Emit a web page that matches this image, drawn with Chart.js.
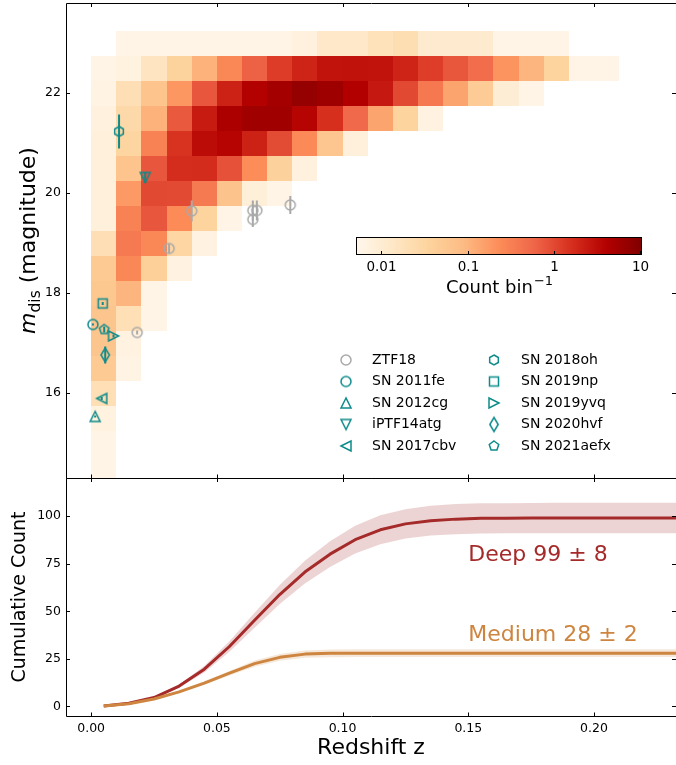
<!DOCTYPE html>
<html>
<head>
<meta charset="utf-8">
<script src="https://cdn.jsdelivr.net/npm/chart.js@4.4.1/dist/chart.umd.min.js"></script>
<style>
  body { margin: 0; background: #fff; }
  #wrap { position: relative; width: 676px; height: 765px; overflow: hidden; }
  canvas { position: absolute; left: 0; }
  #top { top: 0; }
  #bottom { top: 470px; }
</style>
</head>
<body>
<div id="wrap">
  <canvas id="top" width="676" height="480"></canvas>
  <canvas id="bottom" width="676" height="295"></canvas>
</div>
<script>
/* 2D histogram: rows of magnitude, columns of redshift (bin i covers 0.01*i .. 0.01*(i+1)) */
var binWidth = 0.01;
var magStep = 0.5;
var magRows = [23.0, 22.5, 22.0, 21.5, 21.0, 20.5, 20.0, 19.5, 19.0, 18.5, 18.0, 17.5, 17.0, 16.5, 16.0, 15.5, 15.0, 14.5];
var counts = [
  [null, 0.006, 0.006, 0.006, 0.006, 0.006, 0.006, 0.006, 0.0075, 0.013, 0.013, 0.018, 0.022, 0.011, 0.011, 0.011, 0.006, 0.006, 0.006],
  [0.006, 0.0072, 0.016, 0.036, 0.11, 0.26, 0.65, 1.25, 2.0, 2.8, 2.9, 2.8, 2.0, 1.24, 0.79, 0.5, 0.2, 0.1, 0.034, 0.006, 0.006],
  [0.0065, 0.021, 0.063, 0.19, 0.78, 2.1, 4.0, 5.3, 7.0, 6.0, 4.1, 2.5, 1.0, 0.38, 0.145, 0.046, 0.0095, 0.006],
  [0.0075, 0.027, 0.11, 0.75, 2.4, 4.6, 5.6, 5.6, 3.7, 1.6, 0.54, 0.145, 0.034, 0.007],
  [0.0078, 0.033, 0.3, 1.5, 3.2, 3.7, 2.1, 0.95, 0.25, 0.06, 0.008],
  [0.008, 0.063, 0.78, 1.65, 1.7, 0.85, 0.23, 0.038, 0.0075],
  [0.008, 0.18, 1.0, 0.98, 0.36, 0.065, 0.0085, 0.006],
  [0.008, 0.3, 0.78, 0.24, 0.035, 0.006],
  [0.021, 0.36, 0.26, 0.031, 0.007],
  [0.05, 0.27, 0.042, 0.007],
  [0.057, 0.1, 0.006],
  [0.062, 0.02, 0.006],
  [0.062, 0.0068],
  [0.05, 0.0065],
  [0.02],
  [0.0072],
  [0.006],
  [0.006]
];
var countMin = 0.0051, countMax = 10.5;
var countTicks = [0.01, 0.1, 1, 10];
var countTickLabels = ['0.01', '0.1', '1', '10'];

/* ZTF18 sample */
var ztfZ = [0.0183, 0.0310, 0.0400, 0.0643, 0.0659, 0.0643, 0.0792];
var ztfMag = [17.21, 18.89, 19.64, 19.65, 19.65, 19.47, 19.76];
var ztfErr = [0.04, 0.09, 0.21, 0.2, 0.2, 0.15, 0.18];

/* individual supernovae */
var snNames = ['SN 2011fe', 'SN 2012cg', 'iPTF14atg', 'SN 2017cbv', 'SN 2018oh', 'SN 2019np', 'SN 2019yvq', 'SN 2020hvf', 'SN 2021aefx'];
var snZ = [0.0007, 0.0016, 0.0215, 0.0042, 0.0111, 0.0046, 0.0089, 0.0056, 0.0052];
var snMag = [17.37, 15.53, 20.31, 15.89, 21.23, 17.79, 17.14, 16.76, 17.27];
var snErr = [0.02, 0.02, 0.11, 0.03, 0.34, 0.03, 0.03, 0.17, 0.06];

/* cumulative counts */
var zGrid = [0.005, 0.015, 0.025, 0.035, 0.045, 0.055, 0.065, 0.075, 0.085, 0.095, 0.105, 0.115, 0.125, 0.135, 0.145, 0.155, 0.165, 0.175, 0.185, 0.195, 0.205, 0.215, 0.225, 0.235];
var deepCount = [0.3, 1.7, 4.7, 10.7, 19.6, 31.5, 45.3, 58.8, 70.6, 80.0, 87.6, 92.8, 95.9, 97.6, 98.4, 98.8, 98.9, 99.0, 99.0, 99.0, 99.0, 99.0, 99.0, 99.0];
var deepHigh = [0.3, 1.8, 5.1, 11.6, 21.3, 34.2, 49.2, 63.8, 76.6, 86.8, 94.9, 100.4, 103.6, 105.4, 106.3, 106.7, 106.8, 106.9, 107.0, 107.0, 107.0, 107.0, 107.0, 107.0];
var deepLow = [0.3, 1.6, 4.3, 9.8, 17.9, 28.8, 41.4, 53.8, 64.6, 73.2, 80.3, 85.2, 88.2, 89.8, 90.5, 90.9, 91.0, 91.0, 91.0, 91.0, 91.0, 91.0, 91.0, 91.0];
var mediumCount = [0.3, 1.4, 3.9, 7.7, 12.3, 17.5, 22.5, 25.8, 27.5, 27.9, 28.0, 28.0, 28.0, 28.0, 28.0, 28.0, 28.0, 28.0, 28.0, 28.0, 28.0, 28.0, 28.0, 28.0];
var mediumHigh = [0.3, 1.5, 4.2, 8.2, 13.2, 18.7, 24.1, 27.6, 29.4, 29.9, 30.0, 30.0, 30.0, 30.0, 30.0, 30.0, 30.0, 30.0, 30.0, 30.0, 30.0, 30.0, 30.0, 30.0];
var mediumLow = [0.3, 1.3, 3.6, 7.2, 11.4, 16.3, 20.9, 24.0, 25.6, 25.9, 26.0, 26.0, 26.0, 26.0, 26.0, 26.0, 26.0, 26.0, 26.0, 26.0, 26.0, 26.0, 26.0, 26.0];

var zTicks = [0, 0.05, 0.10, 0.15, 0.20];
var magTicks = [16, 18, 20, 22];
var countAxisTicks = [0, 25, 50, 75, 100];

var grey = '#a9a9a9', teal = '#0e8b8b';
var deepColor = '#a52a2a', mediumColor = '#cd853f';

Chart.defaults.font.family = '"DejaVu Sans", sans-serif';
Chart.defaults.color = '#000';
Chart.defaults.animation = false;

// OrRd colour map
var orrd = [[255,247,236],[254,232,200],[253,212,158],[253,187,132],[252,141,89],[239,101,72],[215,48,31],[179,0,0],[127,0,0]];
function cmap(t) {
  t = Math.max(0, Math.min(1, t));
  var s = t * 8, i = Math.min(7, Math.floor(s)), f = s - i;
  var a = orrd[i], b = orrd[i + 1];
  return 'rgb(' + Math.round(a[0] + (b[0] - a[0]) * f) + ',' + Math.round(a[1] + (b[1] - a[1]) * f) + ',' + Math.round(a[2] + (b[2] - a[2]) * f) + ')';
}
function logFrac(v) {
  return (Math.log10(v) - Math.log10(countMin)) / (Math.log10(countMax) - Math.log10(countMin));
}

function polygon(n, r) {
  var out = [];
  for (var k = 0; k < n; k++) {
    var a = -Math.PI / 2 + 2 * Math.PI * k / n;
    out.push([r * Math.cos(a), r * Math.sin(a)]);
  }
  return out;
}
// hollow markers, drawn once and reused as point styles
function marker(shape, color) {
  var c = document.createElement('canvas');
  c.width = 20; c.height = 20;
  var g = c.getContext('2d');
  var h = 5;
  g.translate(10, 10);
  g.strokeStyle = color;
  g.lineWidth = 1.5;
  g.beginPath();
  if (shape === 'circle') {
    g.arc(0, 0, h, 0, 2 * Math.PI);
  } else {
    var pts;
    switch (shape) {
      case 'triUp': pts = [[0, -h], [-h, h], [h, h]]; break;
      case 'triDown': pts = [[0, h], [-h, -h], [h, -h]]; break;
      case 'triLeft': pts = [[-h, 0], [h, -h], [h, h]]; break;
      case 'triRight': pts = [[h, 0], [-h, -h], [-h, h]]; break;
      case 'square': pts = [[-4.5, -4.5], [4.5, -4.5], [4.5, 4.5], [-4.5, 4.5]]; break;
      case 'thinDiamond': pts = [[0, -7], [4.2, 0], [0, 7], [-4.2, 0]]; break;
      case 'hexagon': pts = polygon(6, h); break;
      case 'pentagon': pts = polygon(5, h); break;
    }
    pts.forEach(function(p, i) { if (i) g.lineTo(p[0], p[1]); else g.moveTo(p[0], p[1]); });
    g.closePath();
  }
  g.stroke();
  return c;
}
var snShape = {
  'SN 2011fe': 'circle', 'SN 2012cg': 'triUp', 'iPTF14atg': 'triDown', 'SN 2017cbv': 'triLeft',
  'SN 2018oh': 'hexagon', 'SN 2019np': 'square', 'SN 2019yvq': 'triRight', 'SN 2020hvf': 'thinDiamond',
  'SN 2021aefx': 'pentagon'
};

function setTicks(values) {
  return function(scale) { scale.ticks = values.map(function(v) { return { value: v }; }); };
}
// fixed axis box, no extra room for overhanging labels
function fixSize(w, h) {
  return function(s) {
    if (w !== null) s.width = w;
    if (h !== null) s.height = h;
    s.paddingTop = s.paddingBottom = s.paddingLeft = s.paddingRight = 0;
  };
}

// axes frame with inward ticks on all four sides
var frame = {
  id: 'frame',
  afterDatasetsDraw: function(chart) {
    var a = chart.chartArea, ctx = chart.ctx, len = 4;
    var xs = chart.scales.x, ys = chart.scales.y;
    ctx.save();
    ctx.strokeStyle = '#000';
    ctx.lineWidth = 1;
    ctx.beginPath();
    ctx.rect(a.left + 0.5, a.top + 0.5, a.right - a.left, a.bottom - a.top);
    xs.ticks.forEach(function(t) {
      var px = Math.round(xs.getPixelForValue(t.value)) + 0.5;
      ctx.moveTo(px, a.top); ctx.lineTo(px, a.top + len);
      ctx.moveTo(px, a.bottom + 0.5); ctx.lineTo(px, a.bottom + 0.5 - len);
    });
    ys.ticks.forEach(function(t) {
      var py = Math.round(ys.getPixelForValue(t.value)) + 0.5;
      ctx.moveTo(a.left, py); ctx.lineTo(a.left + len, py);
      ctx.moveTo(a.right, py); ctx.lineTo(a.right - len, py);
    });
    ctx.stroke();
    ctx.restore();
  }
};

var heatmap = {
  id: 'heatmap',
  beforeDatasetsDraw: function(chart) {
    var xs = chart.scales.x, ys = chart.scales.y, ctx = chart.ctx, a = chart.chartArea;
    ctx.save();
    ctx.beginPath();
    ctx.rect(a.left, a.top, a.right - a.left, a.bottom - a.top);
    ctx.clip();
    magRows.forEach(function(m, r) {
      counts[r].forEach(function(v, i) {
        if (v === null) return;
        var x0 = Math.round(xs.getPixelForValue(i * binWidth));
        var x1 = Math.round(xs.getPixelForValue((i + 1) * binWidth));
        var y0 = Math.round(ys.getPixelForValue(m + magStep / 2));
        var y1 = Math.round(ys.getPixelForValue(m - magStep / 2));
        ctx.fillStyle = cmap(logFrac(v));
        ctx.fillRect(x0, y0, x1 - x0, y1 - y0);
      });
    });
    ctx.restore();
  }
};

var errorBars = {
  id: 'errorBars',
  beforeDatasetsDraw: function(chart) {
    var ys = chart.scales.y, ctx = chart.ctx;
    chart.data.datasets.forEach(function(ds, i) {
      var meta = chart.getDatasetMeta(i);
      ctx.save();
      ctx.strokeStyle = ds.borderColor;
      ctx.lineWidth = 2;
      ds.data.forEach(function(p, j) {
        var px = meta.data[j].x;
        ctx.beginPath();
        ctx.moveTo(px, ys.getPixelForValue(p.y - p.err));
        ctx.lineTo(px, ys.getPixelForValue(p.y + p.err));
        ctx.stroke();
      });
      ctx.restore();
    });
  }
};

// colour bar, legend and the m_dis axis label
var topDecor = {
  id: 'topDecor',
  afterDraw: function(chart) {
    var ctx = chart.ctx, a = chart.chartArea;
    var cb = { left: 356, right: 642, top: 237, bottom: 255 };
    ctx.save();
    for (var px = cb.left; px < cb.right; px++) {
      ctx.fillStyle = cmap((px + 0.5 - cb.left) / (cb.right - cb.left));
      ctx.fillRect(px, cb.top, 1, cb.bottom - cb.top);
    }
    ctx.strokeStyle = '#000';
    ctx.lineWidth = 1;
    ctx.strokeRect(cb.left + 0.5, cb.top + 0.5, cb.right - cb.left - 1, cb.bottom - cb.top - 1);
    ctx.font = '13.5px "DejaVu Sans"';
    ctx.fillStyle = '#000';
    ctx.textAlign = 'center';
    ctx.textBaseline = 'middle';
    countTicks.forEach(function(v, k) {
      var tx = Math.round(cb.left + logFrac(v) * (cb.right - cb.left)) + 0.5;
      ctx.beginPath();
      ctx.moveTo(tx, cb.bottom); ctx.lineTo(tx, cb.bottom - 4);
      ctx.stroke();
      ctx.fillText(countTickLabels[k], tx, 267);
    });
    // "Count bin^-1"
    ctx.textBaseline = 'alphabetic';
    ctx.textAlign = 'left';
    ctx.font = '18px "DejaVu Sans"';
    var main = 'Count bin', w1 = ctx.measureText(main).width;
    ctx.font = '13px "DejaVu Sans"';
    var sup = '\u22121', w2 = ctx.measureText(sup).width;
    var sx = (cb.left + cb.right) / 2 - (w1 + w2) / 2;
    ctx.font = '18px "DejaVu Sans"';
    ctx.fillText(main, sx, 293);
    ctx.font = '13px "DejaVu Sans"';
    ctx.fillText(sup, sx + w1 + 1, 285);

    // legend in two columns
    ctx.font = '14px "DejaVu Sans"';
    ctx.textBaseline = 'middle';
    chart.data.datasets.forEach(function(ds, i) {
      var col = i < 5 ? 0 : 1, row = i % 5;
      var mx = col ? 494 : 346, tx = col ? 521 : 372, my = 360 + row * 21.5;
      ctx.drawImage(ds.pointStyle, mx - 10, my - 10);
      ctx.fillText(ds.label, tx, my);
    });

    // y label: m_dis (magnitude)
    ctx.translate(35, (a.top + a.bottom) / 2);
    ctx.rotate(-Math.PI / 2);
    ctx.textBaseline = 'alphabetic';
    var fm = 'italic 22px "DejaVu Sans"', fs = '15.5px "DejaVu Sans"', fr = '22px "DejaVu Sans"';
    ctx.font = fm; var wm = ctx.measureText('m').width;
    ctx.font = fs; var ws = ctx.measureText('dis').width;
    ctx.font = fr; var wr = ctx.measureText(' (magnitude)').width;
    var x0 = -(wm + ws + wr) / 2;
    ctx.font = fm; ctx.fillText('m', x0, 0);
    ctx.font = fs; ctx.fillText('dis', x0 + wm, 4.5);
    ctx.font = fr; ctx.fillText(' (magnitude)', x0 + wm + ws, 0);
    ctx.restore();
  }
};

var topSets = [{
  label: 'ZTF18',
  data: ztfZ.map(function(z, i) { return { x: z, y: ztfMag[i], err: ztfErr[i] }; }),
  pointStyle: marker('circle', grey),
  borderColor: grey,
  pointRadius: 5
}];
snNames.forEach(function(name, i) {
  topSets.push({
    label: name,
    data: [{ x: snZ[i], y: snMag[i], err: snErr[i] }],
    pointStyle: marker(snShape[name], teal),
    borderColor: teal,
    pointRadius: 5
  });
});

new Chart(document.getElementById('top'), {
  type: 'scatter',
  data: { datasets: topSets },
  options: {
    responsive: false,
    events: [],
    layout: { autoPadding: false, padding: { top: 3, right: 0, left: 0, bottom: 0 } },
    plugins: { legend: { display: false }, tooltip: { enabled: false } },
    scales: {
      x: {
        type: 'linear', min: -0.01, max: 0.2326,
        grid: { display: false, drawTicks: false }, border: { display: false },
        ticks: { display: false },
        afterBuildTicks: setTicks(zTicks),
        afterFit: fixSize(null, 2)
      },
      y: {
        type: 'linear', min: 14.3, max: 23.8,
        grid: { display: false, drawTicks: false }, border: { display: false },
        ticks: { padding: 5, font: { size: 12.5 } },
        afterBuildTicks: setTicks(magTicks),
        afterFit: fixSize(66, null)
      }
    }
  },
  plugins: [heatmap, errorBars, frame, topDecor]
});

function series(ys) {
  return zGrid.map(function(z, i) { return { x: z, y: ys[i] }; });
}

var bandLabels = {
  id: 'bandLabels',
  afterDatasetsDraw: function(chart) {
    var xs = chart.scales.x, ys = chart.scales.y, ctx = chart.ctx;
    ctx.save();
    ctx.font = '22px "DejaVu Sans"';
    ctx.textBaseline = 'alphabetic';
    ctx.fillStyle = deepColor;
    ctx.fillText('Deep 99 \u00b1 8', xs.getPixelForValue(0.15), ys.getPixelForValue(76.5));
    ctx.fillStyle = mediumColor;
    ctx.fillText('Medium 28 \u00b1 2', xs.getPixelForValue(0.15), ys.getPixelForValue(34.3));
    ctx.restore();
  }
};

new Chart(document.getElementById('bottom'), {
  type: 'line',
  data: {
    datasets: [
      { label: 'Deep upper', data: series(deepHigh), fill: '+1', backgroundColor: 'rgba(165,42,42,0.2)', borderColor: 'transparent', borderWidth: 0, pointRadius: 0, order: 3 },
      { label: 'Deep lower', data: series(deepLow), fill: false, borderColor: 'transparent', borderWidth: 0, pointRadius: 0, order: 3 },
      { label: 'Medium upper', data: series(mediumHigh), fill: '+1', backgroundColor: 'rgba(205,133,63,0.2)', borderColor: 'transparent', borderWidth: 0, pointRadius: 0, order: 2 },
      { label: 'Medium lower', data: series(mediumLow), fill: false, borderColor: 'transparent', borderWidth: 0, pointRadius: 0, order: 2 },
      { label: 'Deep', data: series(deepCount), fill: false, borderColor: deepColor, borderWidth: 3, pointRadius: 0, borderJoinStyle: 'round', order: 1 },
      { label: 'Medium', data: series(mediumCount), fill: false, borderColor: mediumColor, borderWidth: 3, pointRadius: 0, borderJoinStyle: 'round', order: 0 }
    ]
  },
  options: {
    responsive: false,
    events: [],
    layout: { autoPadding: false, padding: { top: 8, right: 0, left: 0, bottom: 0 } },
    plugins: { legend: { display: false }, tooltip: { enabled: false } },
    scales: {
      x: {
        type: 'linear', min: -0.01, max: 0.2326,
        grid: { display: false, drawTicks: false }, border: { display: false },
        ticks: { padding: 5, font: { size: 12.5 }, callback: function(v) { return v.toFixed(2); } },
        title: { display: true, text: 'Redshift z', font: { size: 22 }, padding: { top: 0, bottom: 4 } },
        afterBuildTicks: setTicks(zTicks),
        afterFit: fixSize(null, 49)
      },
      y: {
        type: 'linear', min: -5, max: 120,
        grid: { display: false, drawTicks: false }, border: { display: false },
        ticks: { padding: 5, font: { size: 12.5 } },
        title: { display: true, text: 'Cumulative Count', font: { size: 19 }, padding: { top: 9, bottom: 0 } },
        afterBuildTicks: setTicks(countAxisTicks),
        afterFit: fixSize(66, null)
      }
    }
  },
  plugins: [frame, bandLabels]
});
</script>
</body>
</html>
